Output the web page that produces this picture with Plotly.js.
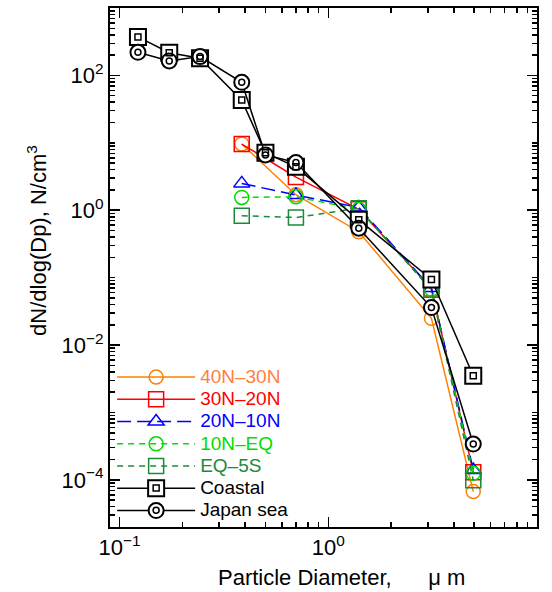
<!DOCTYPE html>
<html>
<head>
<meta charset="utf-8">
<script src="https://cdn.plot.ly/plotly-3.0.1.min.js"></script>
<style>html,body{margin:0;padding:0;background:#fff;}#chart{width:552px;height:592px;}</style>
</head>
<body>
<div id="chart"></div>
<script>
// Particle diameters (µm)
var diamAll = [0.1225, 0.173, 0.243, 0.385, 0.50, 0.70, 1.40, 3.12, 4.95];
var diamLat = [0.385, 0.70, 1.40, 3.12, 4.95];

// dN/dlog(Dp), N/cm^3
var lat40to30 = [9.6, 1.7, 0.48, 0.025, 6.7e-5];
var lat30to20 = [9.6, 3.1, 1.03, 0.069, 1.3e-4];
var lat20to10 = [2.5, 1.68, 1.10, 0.070, 1.4e-4];
var lat10toEQ = [1.55, 1.58, 1.03, 0.067, 1.25e-4];
var latEQto5S = [0.83, 0.78, 1.07, 0.066, 9.9e-5];
var coastal   = [372, 217, 180, 43, 7.1, 4.4, 0.72, 0.094, 3.5e-3];
var japanSea  = [220, 164, 190, 79, 6.6, 5.1, 0.54, 0.036, 3.4e-4];

var names = ['40N\u201330N', '30N\u201320N', '20N\u201310N', '10N\u2013EQ', 'EQ\u20135S', 'Coastal', 'Japan sea'];
var textColors = ['#ff7f3f', '#ff0000', '#0000ff', '#00dd00', '#1a8a3a', '#000000', '#000000'];

// Tick labels
var xTickVals = [0.1, 1, 10];
var xTickText = ['10<sup>\u22121</sup>', '10<sup>0</sup>', '10<sup>1</sup>'];
var yTickVals = [1e-4, 1e-2, 1, 100];
var yTickText = ['10<sup>\u22124</sup>', '10<sup>\u22122</sup>', '10<sup>0</sup>', '10<sup>2</sup>'];

var xTitle = 'Particle Diameter,\u00a0\u00a0\u00a0\u00a0\u00a0 \u03bc m';
var yTitle = 'dN/dlog(Dp), N/cm<sup>3</sup>';

function minorTicks(lo, hi, exps) {
  var out = [];
  exps.forEach(function (e) {
    for (var d = 1; d <= 9; d++) {
      var v = d * Math.pow(10, e);
      if (v >= lo && v <= hi) out.push(v);
    }
  });
  return out;
}
var xMinor = minorTicks(0.09, 10, [-2, -1, 0]).filter(function (v) { return xTickVals.indexOf(v) < 0; });
var yMinor = minorTicks(2e-5, 1000, [-5, -4, -3, -2, -1, 0, 1, 2]).filter(function (v) {
  return yTickVals.map(function (t) { return t.toPrecision(3); }).indexOf(v.toPrecision(3)) < 0;
});

function lab(i) {
  return '<span style="color:' + textColors[i] + ';font-size:19px">' + names[i] + '</span>';
}

var traces = [
  {x: diamLat, y: lat40to30, name: lab(0), mode: 'lines+markers',
   line: {color: '#ff8000', width: 1.5, dash: 'solid'},
   marker: {symbol: 'circle-open', size: 14, color: '#ff8000', line: {width: 1.5}}},
  {x: diamLat, y: lat30to20, name: lab(1), mode: 'lines+markers',
   line: {color: '#ff0000', width: 1.5, dash: 'solid'},
   marker: {symbol: 'square-open', size: 15, color: '#ff0000', line: {width: 1.5}}},
  {x: diamLat, y: lat20to10, name: lab(2), mode: 'lines+markers',
   line: {color: '#0000ff', width: 1.5, dash: '14px,6px'},
   marker: {symbol: 'triangle-up-open', size: 14, color: '#0000ff', line: {width: 1.5}}},
  {x: diamLat, y: lat10toEQ, name: lab(3), mode: 'lines+markers',
   line: {color: '#00dd00', width: 1.5, dash: '6px,5px'},
   marker: {symbol: 'circle-open', size: 14, color: '#00dd00', line: {width: 1.5}}},
  {x: diamLat, y: latEQto5S, name: lab(4), mode: 'lines+markers',
   line: {color: '#1a8a3a', width: 1.5, dash: '6px,5px'},
   marker: {symbol: 'square-open', size: 15, color: '#1a8a3a', line: {width: 1.5}}},
  {x: diamAll, y: coastal, name: lab(5), mode: 'lines+markers',
   line: {color: '#000000', width: 1.5},
   marker: {symbol: 'square', size: 16, color: '#ffffff', line: {color: '#000000', width: 2}}},
  {x: diamAll, y: japanSea, name: lab(6), mode: 'lines+markers',
   line: {color: '#000000', width: 1.5},
   marker: {symbol: 'circle', size: 15, color: '#ffffff', line: {color: '#000000', width: 2}}},
  {x: diamAll, y: coastal, name: '\u00a0', legend: 'legend2', mode: 'markers',
   marker: {symbol: 'square-open', size: 6, color: '#000000', line: {width: 1.5}}},
  {x: diamAll, y: japanSea, name: '\u00a0', legend: 'legend2', mode: 'markers',
   marker: {symbol: 'circle-open', size: 6, color: '#000000', line: {width: 1.5}}}
];

var font = 'Liberation Sans, Arial, sans-serif';
var legendCommon = {x: 0.005, y: 0.0, xanchor: 'left', yanchor: 'bottom',
  bgcolor: 'rgba(0,0,0,0)', borderwidth: 0, itemwidth: 78,
  font: {size: 14.8, family: font}, tracegroupgap: 0, itemclick: false};
var legend2 = Object.assign({}, legendCommon);

var layout = {
  width: 552, height: 592,
  margin: {l: 110, r: 15, t: 8, b: 65},
  paper_bgcolor: '#ffffff', plot_bgcolor: '#ffffff',
  font: {family: font, color: '#000000', size: 18},
  showlegend: true,
  legend: legendCommon,
  legend2: legend2,
  xaxis: {
    type: 'log', range: [Math.log10(0.09), 1],
    tickmode: 'array', tickvals: xTickVals, ticktext: xTickText,
    ticks: 'inside', ticklen: 10, tickwidth: 1.5, tickcolor: '#000',
    showline: true, linewidth: 2, linecolor: '#000', mirror: 'ticks',
    showgrid: false, zeroline: false,
    tickfont: {size: 22, family: font},
    minor: {tickmode: 'array', tickvals: xMinor, ticks: 'inside', ticklen: 5, tickwidth: 1.5, tickcolor: '#000', showgrid: false}
  },
  yaxis: {
    type: 'log', range: [Math.log10(2e-5), 3],
    tickmode: 'array', tickvals: yTickVals, ticktext: yTickText,
    ticks: 'inside', ticklen: 10, tickwidth: 1.5, tickcolor: '#000',
    showline: true, linewidth: 2, linecolor: '#000', mirror: 'ticks',
    showgrid: false, zeroline: false,
    tickfont: {size: 22, family: font},
    minor: {tickmode: 'array', tickvals: yMinor, ticks: 'inside', ticklen: 5, tickwidth: 1.5, tickcolor: '#000', showgrid: false}
  },
  annotations: [
    {text: xTitle, xref: 'paper', yref: 'paper', x: 0.543, y: 0, yshift: -50,
     xanchor: 'center', yanchor: 'middle', showarrow: false, font: {size: 22, family: font}},
    {text: yTitle, xref: 'paper', yref: 'paper', x: 0, y: 0.505, xshift: -73, yshift: 24,
     xanchor: 'center', yanchor: 'middle', textangle: -90, showarrow: false, font: {size: 22, family: font}}
  ]
};

Plotly.newPlot('chart', traces, layout, {displayModeBar: false, staticPlot: true});
</script>
</body>
</html>
